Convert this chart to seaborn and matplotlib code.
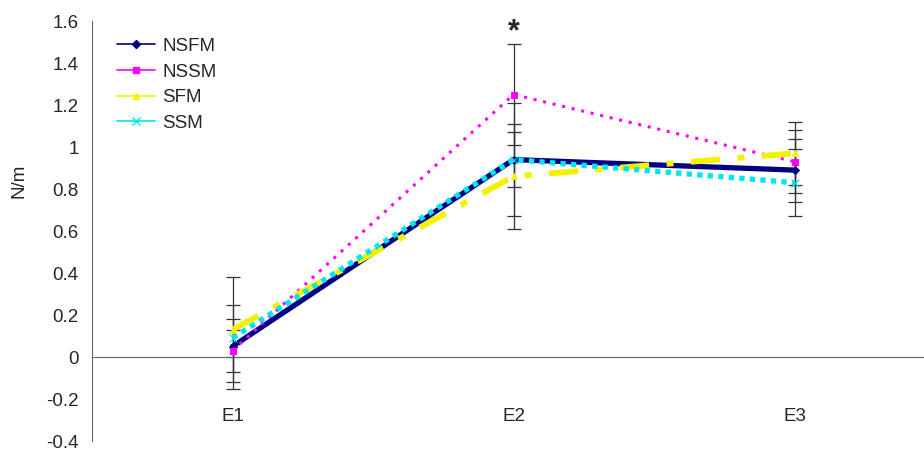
import matplotlib
matplotlib.use("Agg")
import matplotlib.pyplot as plt
import numpy as np
import pandas as pd
import seaborn as sns

# Datos
categories = ["E1", "E2", "E3"]
series_names = ["NSFM", "NSSM", "SFM", "SSM"]

nsfm_mean = [0.05, 0.94, 0.89]
nssm_mean = [0.03, 1.25, 0.93]
sfm_mean = [0.13, 0.86, 0.97]
ssm_mean = [0.09, 0.94, 0.83]

nsfm_err = [0.20, 0.13, 0.15]
nssm_err = [0.10, 0.24, 0.15]
sfm_err = [0.25, 0.25, 0.15]
ssm_err = [0.09, 0.27, 0.16]

y_ticks = [-0.4, -0.2, 0, 0.2, 0.4, 0.6, 0.8, 1, 1.2, 1.4, 1.6]
star_label = "*"

means = [nsfm_mean, nssm_mean, sfm_mean, ssm_mean]
errors = [nsfm_err, nssm_err, sfm_err, ssm_err]

styles = {
    "NSFM": dict(color="#000080", ls="-", lw=3.8, marker="D", ms=4),
    "NSSM": dict(color="#FF00FF", ls=(0, (1, 2.2)), lw=2.2, marker="s", ms=5),
    "SFM": dict(color="#F2F200", ls=(0, (5, 3, 1.2, 3)), lw=4.2, marker="^", ms=5),
    "SSM": dict(color="#00E5EE", ls=(0, (1, 1)), lw=3.8, marker="x", ms=6),
}


def main() -> None:
    sns.set_style("white")
    plt.rcParams["font.family"] = ["Liberation Sans", "DejaVu Sans"]

    fig = plt.figure(figsize=(9.24, 4.5), dpi=100)
    ax = fig.add_axes([92 / 924, 9 / 450, 1 - 92 / 924, (441 - 21) / 450])

    x = np.arange(len(categories))

    # Barras de error (delgadas, gris oscuro)
    for m, e in zip(means, errors):
        ax.errorbar(x, m, yerr=e, fmt="none", ecolor="#333333",
                    elinewidth=0.9, capsize=5, capthick=0.9, zorder=2)

    df = pd.DataFrame({
        "x": np.tile(x, len(series_names)),
        "val": np.concatenate(means),
        "serie": np.repeat(series_names, len(categories)),
    })

    for name in series_names:
        st = styles[name]
        sub = df[df["serie"] == name]
        sns.lineplot(data=sub, x="x", y="val", ax=ax, color=st["color"],
                     linestyle=st["ls"], linewidth=st["lw"], marker=st["marker"],
                     markersize=st["ms"], markeredgecolor=st["color"],
                     markerfacecolor=st["color"], label=name, zorder=3)

    ax.text(x[1], 1.545, star_label, ha="center", va="center",
            fontsize=22, fontweight="bold")

    ax.set_xlim(-0.5, -0.5 + (924 - 92) / 281)
    ax.set_ylim(-0.4, 1.6)
    ax.set_yticks(y_ticks)
    ax.set_yticklabels([f"{t:g}" for t in y_ticks], fontsize=13.5)

    ax.spines["top"].set_visible(False)
    ax.spines["right"].set_visible(False)
    ax.spines["left"].set_color("#666666")
    ax.spines["bottom"].set_color("#666666")
    ax.spines["bottom"].set_position(("data", 0))

    ax.set_xticks(x)
    ax.set_xticklabels(categories, fontsize=13.5)
    ax.tick_params(axis="x", which="major", length=0, pad=37)
    ax.set_xticks([0.5, 1.5], minor=True)
    ax.tick_params(axis="x", which="minor", length=6, color="#666666", direction="out")
    ax.tick_params(axis="y", length=6, color="#666666", direction="out")
    ax.set_xlabel("")
    ax.set_ylabel("N/m", fontsize=13.5)
    ax.yaxis.set_label_coords(-0.078, 0.62)

    leg_handles = []
    for name in series_names:
        st = styles[name]
        leg_handles.append(plt.Line2D([], [], color=st["color"], lw=1.2,
                                      marker=st["marker"], ms=st["ms"],
                                      markerfacecolor=st["color"],
                                      markeredgecolor=st["color"]))
    ax.legend(leg_handles, series_names, loc="upper left", frameon=False,
              fontsize=13.5, bbox_to_anchor=(0.01, 1.0), handlelength=2.0,
              labelspacing=0.45, handletextpad=0.4)

    fig.savefig("out.png", dpi=100)
    plt.close(fig)


if __name__ == "__main__":
    main()
